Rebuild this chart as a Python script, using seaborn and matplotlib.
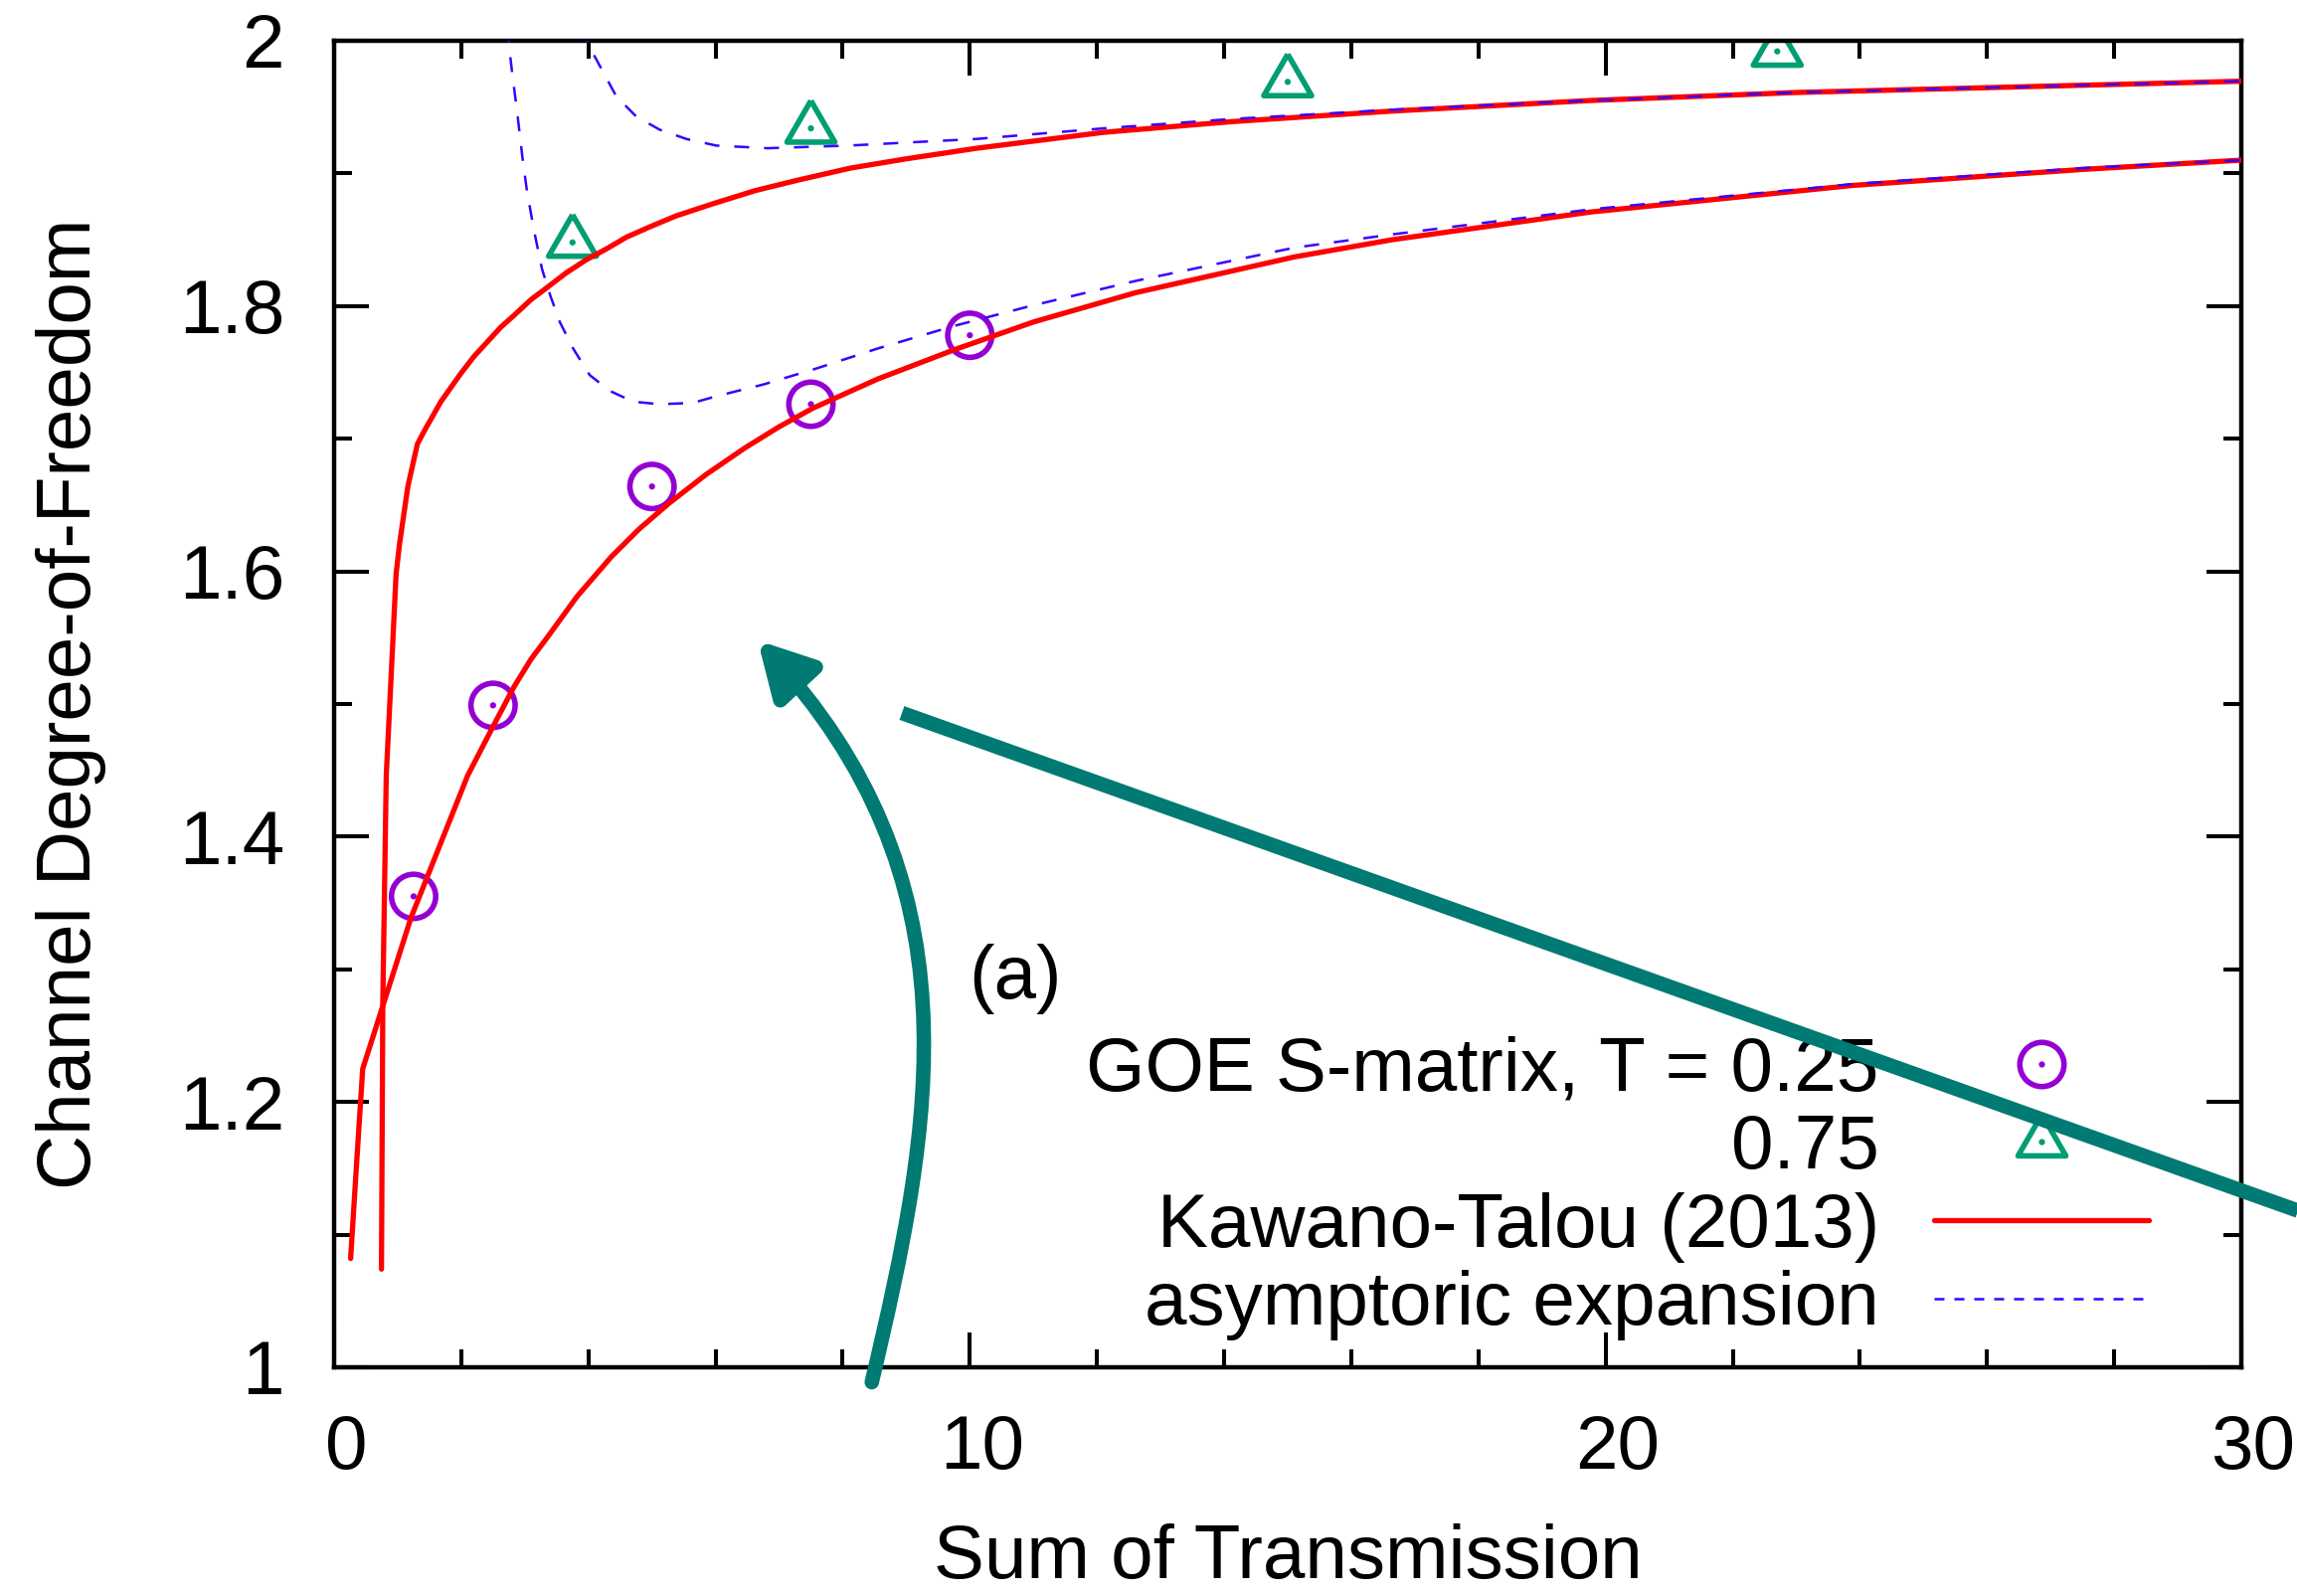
import matplotlib
matplotlib.use("Agg")
import matplotlib.pyplot as plt
import seaborn as sns
import numpy as np
from matplotlib.lines import Line2D
from matplotlib.patches import FancyArrowPatch, ArrowStyle
from matplotlib.path import Path
from matplotlib.ticker import FixedLocator, FixedFormatter, MultipleLocator
from matplotlib.transforms import ScaledTranslation

# ---------------- data ----------------
goe_x_025 = [1.25, 2.5, 5.0, 7.5, 10.0]
goe_y_025 = [1.355, 1.499, 1.664, 1.726, 1.778]
goe_x_075 = [3.75, 7.5, 15.0, 22.7]
goe_y_075 = [1.848, 1.934, 1.969, 1.992]

kt_x_025 = [0.26, 0.35, 0.45, 0.77, 1.21, 2.10, 2.51, 2.83, 3.10, 3.35, 3.82, 4.36, 4.80, 5.26,
            5.85, 6.46, 7.00, 7.53, 8.55, 9.75, 11.0, 12.6, 15.10, 16.64, 19.78, 23.90, 27.50, 30.0]
kt_y_025 = [1.082, 1.151, 1.225, 1.273, 1.339, 1.446, 1.484, 1.513, 1.534, 1.550, 1.581, 1.611, 1.632, 1.651,
            1.673, 1.693, 1.709, 1.723, 1.745, 1.767, 1.788, 1.810, 1.837, 1.850, 1.871, 1.891, 1.903, 1.910]

kt_x_075 = [0.745, 0.766, 0.82, 0.897, 0.975, 1.03, 1.16, 1.31, 1.42, 1.68, 1.99, 2.20, 2.41, 2.62,
            2.83, 3.10, 3.35, 3.65, 3.97, 4.28, 4.60, 4.98, 5.38, 5.95, 6.62, 7.30, 8.12, 9.00,
            10.11, 12.11, 14.11, 16.64, 19.78, 23.0, 30.0]
kt_y_075 = [1.074, 1.275, 1.446, 1.521, 1.598, 1.621, 1.664, 1.696, 1.706, 1.728, 1.749, 1.762, 1.773, 1.784,
            1.793, 1.805, 1.814, 1.825, 1.835, 1.843, 1.852, 1.860, 1.868, 1.877, 1.887, 1.895, 1.904, 1.911,
            1.919, 1.931, 1.939, 1.947, 1.955, 1.961, 1.9695]

asy_x_025 = [2.73, 2.75, 2.80, 2.88, 2.96, 3.03, 3.14, 3.27, 3.40, 3.55, 3.76, 4.02, 4.34, 4.70,
             5.12, 5.64, 6.01, 6.76, 7.59, 8.55, 9.75, 10.95, 12.61, 15.10, 16.64, 19.78, 23.90, 27.50, 30.0]
asy_y_025 = [2.01, 1.997, 1.976, 1.946, 1.913, 1.888, 1.858, 1.828, 1.808, 1.788, 1.768, 1.748, 1.736, 1.728,
             1.726, 1.727, 1.732, 1.741, 1.753, 1.768, 1.785, 1.800, 1.819, 1.844, 1.854, 1.873, 1.892, 1.904, 1.910]

asy_x_075 = [3.92, 4.00, 4.18, 4.44, 4.75, 5.12, 5.54, 6.01, 6.82, 8.10, 10.11, 12.11, 14.11,
             16.64, 19.78, 23.0, 30.0]
asy_y_075 = [2.01, 1.997, 1.981, 1.958, 1.943, 1.933, 1.926, 1.921, 1.919, 1.921, 1.926, 1.934, 1.941,
             1.948, 1.955, 1.961, 1.9695]

x_ticks = [0, 10, 20, 30]
x_tick_labels = ["0", "10", "20", "30"]
y_ticks = [1.0, 1.2, 1.4, 1.6, 1.8, 2.0]
y_tick_labels = ["1", "1.2", "1.4", "1.6", "1.8", "2"]

legend_labels = ["GOE S-matrix, T = 0.25", "0.75", "Kawano-Talou (2013)", "asymptoric expansion"]

# ---------------- style ----------------
sns.set_theme(style="white")
plt.rcParams["font.family"] = ["Liberation Sans", "DejaVu Sans"]
plt.rcParams["text.color"] = "black"
plt.rcParams["axes.labelcolor"] = "black"

PURPLE = "#9400d3"
GREEN = "#009e73"
RED = "#ff0000"
BLUE = "#3a00ff"
TEAL = "#007a72"
FS = 55
CIRC_MS = 32
TRI_MS = 40
MEW = 4.0

W, H = 2310, 1605
fig = plt.figure(figsize=(W / 100, H / 100), dpi=100, facecolor="white")
ax = fig.add_axes([336 / W, 1 - 1375 / H, (2254 - 336) / W, (1375 - 41) / H])
ax.set_facecolor("white")

tri = [(0, 1), (-0.866, -0.5), (0.866, -0.5), (0, 1)]

# markers
sns.scatterplot(x=goe_x_025, y=goe_y_025, ax=ax, marker="o", s=CIRC_MS ** 2,
                facecolor="none", edgecolor=PURPLE, linewidth=MEW, zorder=2, legend=False)
sns.scatterplot(x=goe_x_025, y=goe_y_025, ax=ax, marker="o", s=4.5 ** 2,
                color=PURPLE, edgecolor="none", linewidth=0, zorder=2, legend=False)
sns.scatterplot(x=goe_x_075, y=goe_y_075, ax=ax, marker=tri, s=TRI_MS ** 2,
                facecolor="none", edgecolor=GREEN, linewidth=MEW, zorder=2, legend=False)
sns.scatterplot(x=goe_x_075, y=goe_y_075, ax=ax, marker="o", s=4.5 ** 2,
                color=GREEN, edgecolor="none", linewidth=0, zorder=2, legend=False)

# Kawano-Talou lines
sns.lineplot(x=kt_x_025, y=kt_y_025, ax=ax, color=RED, linewidth=3.8, sort=False,
             estimator=None, zorder=3, legend=False)
sns.lineplot(x=kt_x_075, y=kt_y_075, ax=ax, color=RED, linewidth=3.8, sort=False,
             estimator=None, zorder=3, legend=False)
# asymptotic expansion
sns.lineplot(x=asy_x_025, y=asy_y_025, ax=ax, color=BLUE, linewidth=1.8, sort=False,
             estimator=None, zorder=4, legend=False, linestyle=(0, (6, 6)))
sns.lineplot(x=asy_x_075, y=asy_y_075, ax=ax, color=BLUE, linewidth=1.8, sort=False,
             estimator=None, zorder=4, legend=False, linestyle=(0, (6, 6)))

ax.set_xlim(0, 30)
ax.set_ylim(1, 2)
ax.xaxis.set_major_locator(FixedLocator(x_ticks))
ax.xaxis.set_major_formatter(FixedFormatter(x_tick_labels))
ax.yaxis.set_major_locator(FixedLocator(y_ticks))
ax.yaxis.set_major_formatter(FixedFormatter(y_tick_labels))
ax.xaxis.set_minor_locator(MultipleLocator(2))
ax.yaxis.set_minor_locator(MultipleLocator(0.1))
ax.tick_params(which="both", direction="in", top=True, right=True, bottom=True, left=True,
               color="black", labelsize=FS, labelcolor="black")
ax.tick_params(which="major", length=25, width=2.9)
ax.tick_params(which="minor", length=13, width=2.9)
ax.tick_params(axis="x", which="major", pad=34)
ax.tick_params(axis="y", which="major", pad=36)
for sp in ax.spines.values():
    sp.set_visible(True)
    sp.set_color("black")
    sp.set_linewidth(3.2)
ax.grid(False)

# small rightward shift of the x tick labels, as in the original
shift = ScaledTranslation(12 / 100, 0, fig.dpi_scale_trans)
for lab in ax.get_xticklabels():
    lab.set_transform(lab.get_transform() + shift)

ax.set_xlabel("Sum of Transmission", fontsize=FS, labelpad=28, color="black")
ax.set_ylabel("Channel Degree-of-Freedom", fontsize=FS, labelpad=52, color="black")

ax.text(10.71, 1.293, "(a)", fontsize=FS, ha="center", va="center", color="black")

# legend
h1 = (Line2D([], [], ls="none", marker="o", ms=CIRC_MS, mfc="none", mec=PURPLE, mew=MEW),
      Line2D([], [], ls="none", marker="o", ms=4.5, mfc=PURPLE, mec="none"))
h2 = (Line2D([], [], ls="none", marker=tri, ms=TRI_MS, mfc="none", mec=GREEN, mew=MEW),
      Line2D([], [], ls="none", marker="o", ms=4.5, mfc=GREEN, mec="none"))
h3 = Line2D([], [], color=RED, lw=3.8)
h4 = Line2D([], [], color=BLUE, lw=1.8, ls=(0, (4, 4)))
leg = ax.legend(handles=[h1, h2, h3, h4], labels=legend_labels, markerfirst=False,
                frameon=False, loc="lower right", bbox_to_anchor=(0.9515, 0.02),
                borderpad=0, borderaxespad=0, handlelength=2.83, handletextpad=0.72,
                labelspacing=0.1, fontsize=FS, labelcolor="black")
leg.set_zorder(5)

# annotation arrows (figure pixel positions)
def fxy(x, y):
    return (x / W, 1 - y / H)

line = Line2D([907 / W, 2360 / W], [1 - 717 / H, 1 - 1235 / H], transform=fig.transFigure,
              color=TEAL, lw=10.5, solid_capstyle="butt", zorder=10)
fig.add_artist(line)

verts = [fxy(876.7, 1390), fxy(938.8, 1128.1), fxy(986.1, 884.5), fxy(762, 644)]
codes = [Path.MOVETO, Path.CURVE4, Path.CURVE4, Path.CURVE4]
arrow = FancyArrowPatch(path=Path(verts, codes), transform=fig.transFigure,
                        arrowstyle=ArrowStyle("-|>", head_length=1.0, head_width=0.55),
                        mutation_scale=32, color=TEAL, lw=10.5, zorder=10)
fig.add_artist(arrow)

fig.savefig("out.png", dpi=100, facecolor="white")
